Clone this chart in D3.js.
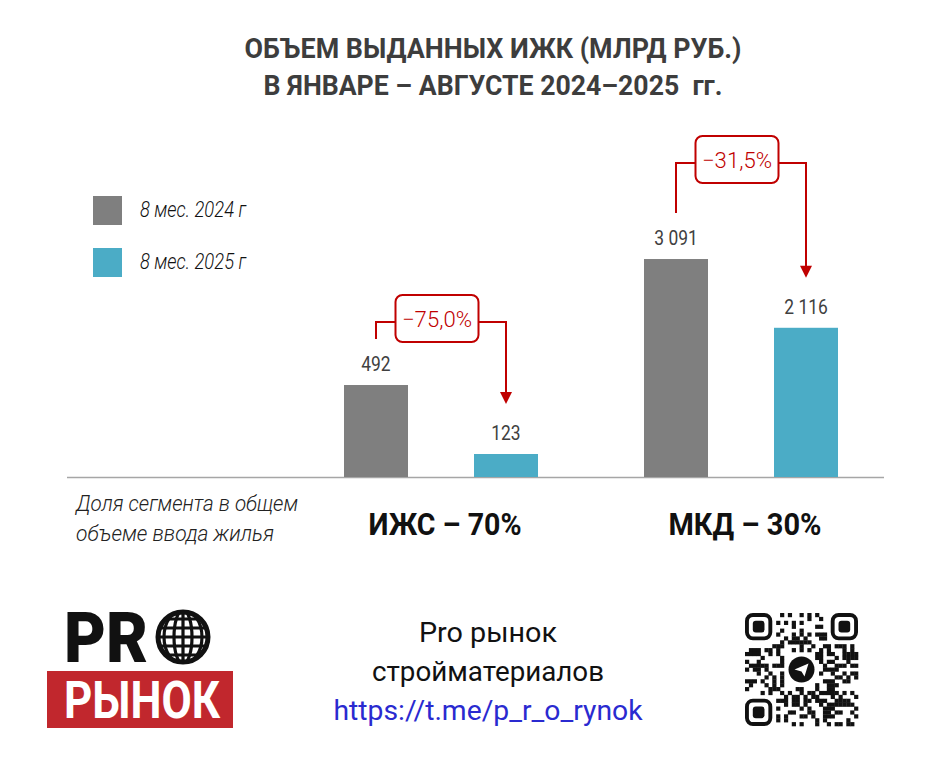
<!DOCTYPE html>
<html>
<head>
<meta charset="utf-8">
<script src="https://cdn.jsdelivr.net/npm/d3@7"></script>
<style>
  body { margin: 0; background: #fff; }
  text { font-family: Roboto, "Noto Sans", sans-serif; }
</style>
</head>
<body>
<script>
// data
const groups = ["ИЖС", "МКД"];
const groupLabels = ["ИЖС – 70%", "МКД – 30%"];
const seriesNames = ["8 мес. 2024 г", "8 мес. 2025 г"];
const values2024 = [492, 3091];
const values2025 = [123, 2116];
const titleLines = ["ОБЪЕМ ВЫДАННЫХ ИЖК (МЛРД РУБ.)", "В ЯНВАРЕ – АВГУСТЕ 2024–2025  гг."];
const noteLines = ["Доля сегмента в общем", "объеме ввода жилья"];
const footerLines = ["Pro рынок", "стройматериалов"];
const footerLink = "https://t.me/p_r_o_rynok";

let width = 941,
    height = 766,
    baseY = 477,
    colours = ["#7f7f7f", "#4bacc6"],
    red = "#c00000";

let svg = d3.select("body").append("svg")
    .attr("width", width)
    .attr("height", height);

svg.append("rect").attr("width", width).attr("height", height).attr("fill", "#fff");

// squeeze text to a given width (original uses a condensed face)
function fit(sel, w) {
    sel.attr("textLength", w).attr("lengthAdjust", "spacingAndGlyphs");
}
function condense(sel, k) {
    sel.each(function() {
        let w = this.getComputedTextLength() * k;
        d3.select(this).attr("textLength", w).attr("lengthAdjust", "spacingAndGlyphs");
    });
}

// title
let titleWidths = [497, 459];
svg.selectAll(".title").data(titleLines).enter().append("text")
    .attr("class", "title")
    .attr("x", 493)
    .attr("y", (d, i) => 58 + i * 37)
    .attr("text-anchor", "middle")
    .attr("font-size", 28)
    .attr("font-weight", 700)
    .attr("fill", "#3d3d3d")
    .style("white-space", "pre")
    .text(d => d)
    .each(function(d, i) { fit(d3.select(this), titleWidths[i]); });

// legend
let legend = svg.selectAll(".legend").data(seriesNames).enter().append("g")
    .attr("class", "legend")
    .attr("transform", (d, i) => `translate(93, ${196 + i * 52})`);
legend.append("rect")
    .attr("width", 29).attr("height", 29)
    .attr("fill", (d, i) => colours[i]);
legend.append("text")
    .attr("x", 47).attr("y", 21)
    .attr("font-size", 22)
    .attr("font-style", "italic")
    .attr("font-weight", 300)
    .attr("fill", "#111")
    .text(d => d)
    .call(fit, 106);

// scales: outer band per segment, inner band per year
let x0 = d3.scaleBand(groups, [291, 891]);
let x1 = d3.scaleBand([0, 1], [53, 247]).paddingInner(66 / 130);
// the two segments sit on different value axes in the original
let yScales = [
    d3.scaleLinear([0, 1749], [baseY, 150]),
    d3.scaleLinear([0, 4637], [baseY, 150])
];

let rows = groups.map((g, i) => ({
    group: g,
    gi: i,
    vals: [values2024[i], values2025[i]]
}));

// baseline
svg.append("line")
    .attr("x1", 67).attr("x2", 884)
    .attr("y1", baseY + 0.5).attr("y2", baseY + 0.5)
    .attr("stroke", "#a6a6a6")
    .attr("stroke-width", 1.5);

let groupG = svg.selectAll(".group").data(rows).enter().append("g")
    .attr("class", "group")
    .attr("transform", d => `translate(${x0(d.group)}, 0)`);

let bars = groupG.selectAll(".bar")
    .data(d => d.vals.map((v, k) => ({v: v, k: k, y: yScales[d.gi]})))
    .enter();

bars.append("rect")
    .attr("class", "bar")
    .attr("x", d => x1(d.k))
    .attr("y", d => d.y(d.v))
    .attr("width", x1.bandwidth())
    .attr("height", d => baseY - d.y(d.v))
    .attr("fill", d => colours[d.k]);

let fmt = v => d3.format(",")(v).replace(/,/g, " ");
bars.append("text")
    .attr("x", d => x1(d.k) + x1.bandwidth() / 2)
    .attr("y", d => d.y(d.v) - 14)
    .attr("text-anchor", "middle")
    .attr("font-size", 20)
    .attr("fill", "#404040")
    .text(d => fmt(d.v))
    .call(condense, 0.87);

// change annotations
let bracketRise = [63, 96];
groupG.each(function(d) {
    let g = d3.select(this),
        y = yScales[d.gi],
        cx0 = x1(0) + x1.bandwidth() / 2,
        cx1 = x1(1) + x1.bandwidth() / 2,
        topY = y(d.vals[0]) - bracketRise[d.gi],
        startY = y(d.vals[0]) - 46,
        tipY = y(d.vals[1]) - 50,
        mid = (cx0 + cx1) / 2 - 4;
    let pct = (d.vals[1] / d.vals[0] - 1) * 100;
    let label = "−" + Math.abs(pct).toFixed(1).replace(".", ",") + "%";

    g.append("path")
        .attr("d", `M${cx0},${startY}V${topY}H${cx1}V${tipY - 11}`)
        .attr("fill", "none")
        .attr("stroke", red)
        .attr("stroke-width", 2);
    g.append("path")
        .attr("d", `M${cx1 - 6},${tipY - 12}L${cx1 + 6},${tipY - 12}L${cx1},${tipY}Z`)
        .attr("fill", red);
    g.append("rect")
        .attr("x", mid - 41.5).attr("y", topY - 27)
        .attr("width", 83).attr("height", 47)
        .attr("rx", 7)
        .attr("fill", "#fff")
        .attr("stroke", red)
        .attr("stroke-width", 2);
    g.append("text")
        .attr("x", mid).attr("y", topY + 5)
        .attr("text-anchor", "middle")
        .attr("font-size", 22)
        .attr("font-weight", 300)
        .attr("fill", red)
        .text(label)
        .call(fit, 70);
});

// segment labels under the axis
groupG.append("text")
    .attr("x", x0.bandwidth() / 2 + 4)
    .attr("y", 535)
    .attr("text-anchor", "middle")
    .attr("font-size", 32)
    .attr("font-weight", 700)
    .attr("fill", "#111")
    .text(d => groupLabels[d.gi])
    .call(fit, 153);

// left note
svg.selectAll(".note").data(noteLines).enter().append("text")
    .attr("class", "note")
    .attr("x", 76)
    .attr("y", (d, i) => 511 + i * 30)
    .attr("font-size", 22)
    .attr("font-style", "italic")
    .attr("font-weight", 300)
    .attr("fill", "#222")
    .text(d => d)
    .each(function(d, i) { fit(d3.select(this), [222, 198][i]); });

// footer text
svg.selectAll(".foot").data(footerLines).enter().append("text")
    .attr("class", "foot")
    .attr("x", 488)
    .attr("y", (d, i) => 642 + i * 39)
    .attr("text-anchor", "middle")
    .attr("font-size", 27)
    .attr("fill", "#111")
    .text(d => d)
    .each(function(d, i) { fit(d3.select(this), [138, 232][i]); });
svg.append("text")
    .attr("x", 488).attr("y", 720)
    .attr("text-anchor", "middle")
    .attr("font-size", 27)
    .attr("fill", "#2a2ad0")
    .text(footerLink)
    .call(fit, 309);

// logo
let logo = svg.append("g");
logo.append("text")
    .attr("x", 64).attr("y", 662)
    .attr("font-size", 70)
    .attr("font-weight", 900)
    .attr("fill", "#111")
    .text("PR")
    .call(fit, 84);
let globe = logo.append("g").attr("transform", "translate(183, 637)");
globe.append("clipPath").attr("id", "gclip")
    .append("circle").attr("r", 27);
let gl = globe.append("g").attr("clip-path", "url(#gclip)")
    .attr("fill", "none").attr("stroke", "#111").attr("stroke-width", 3.2);
[-18, -9, 0, 9, 18].forEach(h => gl.append("line").attr("x1", -30).attr("x2", 30).attr("y1", h).attr("y2", h));
gl.append("line").attr("y1", -30).attr("y2", 30);
[9, 19].forEach(r => gl.append("ellipse").attr("rx", r).attr("ry", 27));
globe.append("circle").attr("r", 25).attr("fill", "none").attr("stroke", "#111").attr("stroke-width", 5);

logo.append("rect")
    .attr("x", 47).attr("y", 671)
    .attr("width", 186).attr("height", 57)
    .attr("fill", "#c1272d");
logo.append("text")
    .attr("x", 142).attr("y", 718)
    .attr("text-anchor", "middle")
    .attr("font-size", 52)
    .attr("font-weight", 700)
    .attr("fill", "#fff")
    .text("РЫНОК")
    .call(fit, 156);

// QR-like badge (decorative)
let qr = svg.append("g").attr("transform", "translate(745, 613)");
let n = 29, m = 113 / 29;
let cells = [];
for (let r = 0; r < n; r++) {
    for (let c = 0; c < n; c++) {
        let inFinder = (r < 8 && c < 8) || (r < 8 && c > n - 9) || (r > n - 9 && c < 8);
        let inLogo = Math.hypot(r - 14, c - 14) < 4.6;
        if (inFinder || inLogo) continue;
        let h = ((r * 73856093) ^ (c * 19349663) ^ (r * c * 83492791)) >>> 0;
        if (h % 7 < 3) cells.push([r, c]);
    }
}
qr.selectAll(".mod").data(cells).enter().append("rect")
    .attr("class", "mod")
    .attr("x", d => d[1] * m).attr("y", d => d[0] * m)
    .attr("width", m + 0.3).attr("height", m + 0.3)
    .attr("fill", "#111");
[[0, 0], [0, n - 7], [n - 7, 0]].forEach(p => {
    let fx = p[1] * m, fy = p[0] * m;
    qr.append("rect").attr("x", fx + m / 2).attr("y", fy + m / 2)
        .attr("width", 6 * m).attr("height", 6 * m).attr("rx", 6)
        .attr("fill", "none").attr("stroke", "#111").attr("stroke-width", m);
    qr.append("rect").attr("x", fx + 2 * m).attr("y", fy + 2 * m)
        .attr("width", 3 * m).attr("height", 3 * m).attr("rx", 3)
        .attr("fill", "#111");
});
qr.append("circle").attr("cx", 14.5 * m).attr("cy", 14.5 * m).attr("r", 13).attr("fill", "#111");
qr.append("path")
    .attr("transform", `translate(${14.5 * m}, ${14.5 * m})`)
    .attr("d", "M-7,0L7,-6L3,7L0,2Z")
    .attr("fill", "#fff");
</script>
</body>
</html>
